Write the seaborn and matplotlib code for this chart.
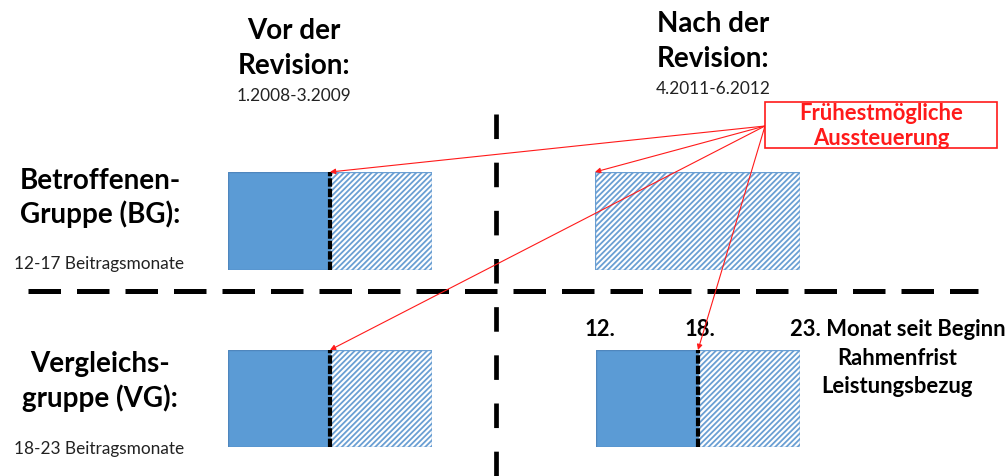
import matplotlib
matplotlib.use("Agg")
import matplotlib.pyplot as plt
import seaborn as sns

# ---------------- data ----------------
periods = ["Vor der\nRevision:", "Nach der\nRevision:"]
period_dates = ["1.2008-3.2009", "4.2011-6.2012"]
groups = ["Betroffenen-\nGruppe (BG):", "Vergleichs-\ngruppe (VG):"]
group_months = ["12-17 Beitragsmonate", "18-23 Beitragsmonate"]
# months since start of the framework period
bar_start = 12
bar_end = 24
# end of the solid (covered) segment per panel: rows = groups, cols = periods
solid_end = [[18, 12], [18, 18]]
# earliest possible exhaustion of benefits (arrow targets)
aussteuerung = [[18, 12], [18, 18]]
month_labels = ["12.", "18."]
month_label_values = [12, 18]
end_label = ["23. Monat seit Beginn", "Rahmenfrist", "Leistungsbezug"]
callout = ["Frühestmögliche", "Aussteuerung"]

# ---------------- style ----------------
sns.set_theme(style="white")
plt.rcParams["font.family"] = ["Lato", "DejaVu Sans"]
plt.rcParams["hatch.linewidth"] = 1.3

W, H = 1008, 477
fig = plt.figure(figsize=(W / 100, H / 100), dpi=100)
fig.patch.set_facecolor("white")

BLUE = "#5b9bd5"
BLUE_EDGE = "#4f86bd"
HATCH_EDGE = "#6a9fd3"
RED = "#ff1a1a"

# panel pixel boxes (left, top, right, bottom)
panel_px = [[(228, 173, 432, 271), (595, 173, 800, 271)],
            [(228, 351, 432, 448), (596, 351, 800, 448)]]

panel_axes = [[None, None], [None, None]]
for r in range(2):
    for c in range(2):
        l, t, rr, b = panel_px[r][c]
        ax = fig.add_axes([l / W, 1 - b / H, (rr - l) / W, (b - t) / H])
        ax.set_xlim(bar_start, bar_end)
        ax.set_ylim(0, 1)
        ax.axis("off")
        s_end = solid_end[r][c]
        if s_end > bar_start:
            ax.barh(0, s_end - bar_start, left=bar_start, height=1, align="edge",
                    color=BLUE, edgecolor=BLUE_EDGE, linewidth=1.0, zorder=2)
        ax.barh(0, bar_end - s_end, left=s_end, height=1, align="edge",
                facecolor="white", edgecolor=HATCH_EDGE, hatch="//////",
                linewidth=1.0, zorder=2)
        if s_end > bar_start:
            ax.plot([s_end, s_end], [0, 1], color="black", lw=3.0,
                    linestyle=(0, (2.0, 0.5)), zorder=3, solid_capstyle="butt",
                    dash_capstyle="butt", clip_on=False)
        panel_axes[r][c] = ax

# overlay axes in pixel coordinates
ov = fig.add_axes([0, 0, 1, 1], zorder=10)
ov.set_xlim(0, W)
ov.set_ylim(H, 0)
ov.axis("off")
ov.patch.set_alpha(0)

# dashed dividers
ov.plot([28, 978], [292, 292], color="black", lw=3.6,
        linestyle=(0, (6.5, 3.2)), dash_capstyle="butt")
ov.plot([496, 496], [115, 477], color="black", lw=3.4,
        linestyle=(0, (5.2, 5.0)), dash_capstyle="butt")

BIG = 20
SMALL = 12.4
MID = 15.8

# column headers
head_x = [294, 713]
head_y = [[31, 66, 96], [24, 59, 89]]
for i, (p, d) in enumerate(zip(periods, period_dates)):
    l1, l2 = p.split("\n")
    ov.text(head_x[i], head_y[i][0], l1, ha="center", va="center",
            fontsize=BIG, fontweight="bold", color="black")
    ov.text(head_x[i], head_y[i][1], l2, ha="center", va="center",
            fontsize=BIG, fontweight="bold", color="black")
    ov.text(head_x[i], head_y[i][2], d, ha="center", va="center",
            fontsize=SMALL, color="#222222")

# row headers
row_y = [[181, 214, 264], [364, 398, 449]]
for i, (g, m) in enumerate(zip(groups, group_months)):
    l1, l2 = g.split("\n")
    ov.text(100, row_y[i][0], l1, ha="center", va="center",
            fontsize=BIG, fontweight="bold", color="black")
    ov.text(100, row_y[i][1], l2, ha="center", va="center",
            fontsize=BIG, fontweight="bold", color="black")
    ov.text(14, row_y[i][2], m, ha="left", va="center",
            fontsize=SMALL, color="#222222")

# month labels above the bottom-right bar
br = panel_axes[1][1]
for lab, val in zip(month_labels, month_label_values):
    ov.annotate(lab, xy=(val, 1), xycoords=br.transData,
                xytext=(4 if val == 12 else 2, 22), textcoords="offset pixels",
                ha="center", va="center", fontsize=MID, fontweight="bold",
                color="black")
ov.text(790, 330, end_label[0], ha="left", va="center", fontsize=MID,
        fontweight="bold", color="black")
ov.text(897, 359, end_label[1], ha="center", va="center", fontsize=MID,
        fontweight="bold", color="black")
ov.text(897, 387, end_label[2], ha="center", va="center", fontsize=MID,
        fontweight="bold", color="black")

# callout box
ov.add_patch(plt.Rectangle((765, 103), 232, 46, facecolor="white",
                           edgecolor=RED, lw=1.2, zorder=5))
ov.text(881, 114, callout[0], ha="center", va="center", fontsize=MID,
        fontweight="bold", color=RED, zorder=6)
ov.text(881, 139, callout[1], ha="center", va="center", fontsize=MID,
        fontweight="bold", color=RED, zorder=6)

# arrows from callout to earliest exhaustion points
for r in range(2):
    for c in range(2):
        ax = panel_axes[r][c]
        ov.annotate("", xy=(aussteuerung[r][c], 1), xycoords=ax.transData,
                    xytext=(765, 127), textcoords=ov.transData,
                    arrowprops=dict(arrowstyle="-|>", color=RED, lw=0.8,
                                    mutation_scale=8, shrinkA=0, shrinkB=0),
                    zorder=4)

fig.savefig("out.png", dpi=100, facecolor="white")
